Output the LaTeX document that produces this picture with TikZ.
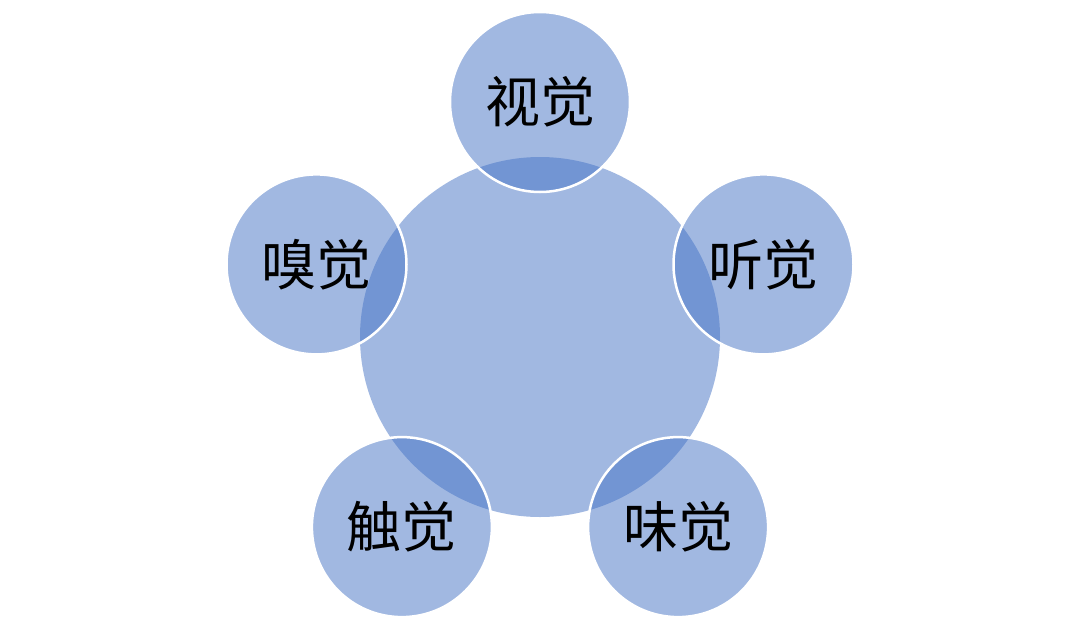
\documentclass[tikz,border=0pt]{standalone}
\usepackage{fontspec}
\newfontfamily\cjk{Noto Sans CJK SC}
\definecolor{accent}{RGB}{68,114,196}
\begin{document}
\begin{tikzpicture}[x=1pt,y=-1pt,
  bigc/.style={circle,fill=accent,fill opacity=0.5,minimum size=360pt,inner sep=0pt},
  smallc/.style={circle,fill=accent,fill opacity=0.5,draw=white,line width=2.5pt,draw opacity=1,minimum size=180pt,inner sep=0pt,text opacity=1,font=\cjk\fontsize{55}{64}\selectfont}]
\useasboundingbox (0,0) rectangle (1080,630);
\node[bigc] (c) at (540,337) {};
\node[smallc] (s1) at (540,102) {视觉};
\node[smallc] (s2) at (763.5,264.4) {听觉};
\node[smallc] (s3) at (678.1,527.1) {味觉};
\node[smallc] (s4) at (401.9,527.1) {触觉};
\node[smallc] (s5) at (316.5,264.4) {嗅觉};
\end{tikzpicture}
\end{document}
